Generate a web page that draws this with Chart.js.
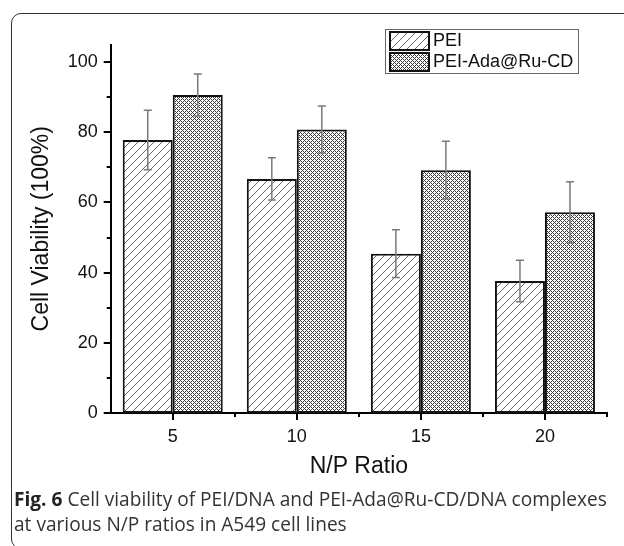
<!DOCTYPE html>
<html>
<head>
<meta charset="utf-8">
<script src="https://cdn.jsdelivr.net/npm/chart.js@4.4.0/dist/chart.umd.min.js"></script>
<style>
  html, body { margin: 0; padding: 0; background: #fff; }
  body { width: 624px; height: 546px; position: relative; overflow: hidden; }
  #frame { position: absolute; left: 11px; top: 13px; width: 640px; height: 536px;
           border: 1.5px solid #333; border-radius: 10px; box-sizing: border-box; }
  #wrap { position: absolute; left: 0; top: 0; width: 624px; height: 546px; }
  #caption { position: absolute; left: 14px; top: 487px; width: 606px; white-space: nowrap;
             font-family: "Open Sans"; font-size: 19.1px; line-height: 25px; color: #333; }
  #caption b { color: #222; }
</style>
</head>
<body>
<div id="frame"></div>
<div id="wrap"><canvas id="chart"></canvas></div>
<div id="caption"><b>Fig. 6</b> Cell viability of PEI/DNA and PEI-Ada@Ru-CD/DNA complexes<br>at various N/P ratios in A549 cell lines</div>
<script>
// values
const ratios = ['5', '10', '15', '20'];
const peiValues = [77.8, 66.7, 45.4, 37.6];
const peiErrors = [8.5, 6.0, 6.8, 5.9];
const adaValues = [90.6, 80.8, 69.2, 57.2];
const adaErrors = [6.0, 6.7, 8.2, 8.7];
const yTicks = [0, 20, 40, 60, 80, 100];

const FONT = '"Liberation Sans", Arial, sans-serif';

function hatchPattern() {
  const c = document.createElement('canvas');
  c.width = 8; c.height = 8;
  const g = c.getContext('2d');
  g.fillStyle = '#fff'; g.fillRect(0, 0, 8, 8);
  g.fillStyle = '#666';
  for (let i = 0; i < 8; i++) g.fillRect(i, 7 - i, 1, 1);
  return g.createPattern(c, 'repeat');
}

function checkPattern() {
  const c = document.createElement('canvas');
  c.width = 4; c.height = 4;
  const g = c.getContext('2d');
  g.fillStyle = '#fff'; g.fillRect(0, 0, 4, 4);
  g.fillStyle = '#3a3a3a';
  for (let x = 0; x < 4; x++)
    for (let y = 0; y < 4; y++)
      if ((x + y) % 4 === 0 || (x - y + 4) % 4 === 0) g.fillRect(x, y, 1, 1);
  return g.createPattern(c, 'repeat');
}

const errorBars = {
  id: 'errorBars',
  afterDatasetsDraw(chart) {
    const ctx = chart.ctx;
    const y = chart.scales.y;
    ctx.save();
    ctx.strokeStyle = '#7a7a7a';
    ctx.lineWidth = 1.5;
    chart.data.datasets.forEach((ds, di) => {
      chart.getDatasetMeta(di).data.forEach((bar, i) => {
        const top = y.getPixelForValue(ds.data[i] + ds.errors[i]);
        const bot = y.getPixelForValue(ds.data[i] - ds.errors[i]);
        ctx.beginPath();
        ctx.moveTo(bar.x, top); ctx.lineTo(bar.x, bot);
        ctx.moveTo(bar.x - 4, top); ctx.lineTo(bar.x + 4, top);
        ctx.moveTo(bar.x - 4, bot); ctx.lineTo(bar.x + 4, bot);
        ctx.stroke();
      });
    });
    ctx.restore();
  }
};

// major + minor tick marks, outside the axes
const axisTicks = {
  id: 'axisTicks',
  afterDraw(chart) {
    const {ctx, scales: {x, y}} = chart;
    ctx.save();
    ctx.strokeStyle = '#000';
    ctx.lineWidth = 2;
    ctx.beginPath();
    for (let v = 0; v <= 100; v += 10) {
      const py = Math.round(y.getPixelForValue(v));
      const len = v % 20 === 0 ? 7 : 4;
      ctx.moveTo(y.right - len, py); ctx.lineTo(y.right, py);
    }
    const step = x.width / ratios.length;
    ratios.forEach((r, i) => {
      const px = Math.round(x.getPixelForValue(i));
      ctx.moveTo(px, x.top); ctx.lineTo(px, x.top + 7);
      const mx = Math.round(px + step / 2);
      ctx.moveTo(mx, x.top); ctx.lineTo(mx, x.top + 4);
    });
    ctx.stroke();
    ctx.restore();
  }
};

const boxLegend = {
  id: 'boxLegend',
  afterDraw(chart) {
    const ctx = chart.ctx;
    ctx.save();
    ctx.strokeStyle = '#666';
    ctx.lineWidth = 1;
    ctx.strokeRect(385.5, 29.5, 193, 44);
    chart.data.datasets.forEach((ds, i) => {
      const top = 32 + i * 21;
      ctx.fillStyle = ds.backgroundColor;
      ctx.fillRect(390, top, 39, 18);
      ctx.lineWidth = 2;
      ctx.strokeStyle = '#111';
      ctx.strokeRect(390, top, 39, 18);
      ctx.fillStyle = '#111';
      ctx.font = '18px ' + FONT;
      ctx.textBaseline = 'middle';
      ctx.fillText(ds.label, 433, top + 9.5);
    });
    ctx.restore();
  }
};

new Chart(document.getElementById('chart'), {
  type: 'bar',
  data: {
    labels: ratios,
    datasets: [{
      label: 'PEI',
      data: peiValues,
      errors: peiErrors,
      backgroundColor: hatchPattern(),
      borderColor: '#111',
      borderWidth: 2,
      borderSkipped: false,
      categoryPercentage: 0.806,
      barPercentage: 1
    }, {
      label: 'PEI-Ada@Ru-CD',
      data: adaValues,
      errors: adaErrors,
      backgroundColor: checkPattern(),
      borderColor: '#111',
      borderWidth: 2,
      borderSkipped: false,
      categoryPercentage: 0.806,
      barPercentage: 1
    }]
  },
  options: {
    responsive: true,
    maintainAspectRatio: false,
    animation: false,
    layout: { padding: { left: 0, top: 44.5, right: 17, bottom: 0 } },
    plugins: { legend: { display: false }, tooltip: { enabled: false } },
    scales: {
      x: {
        grid: { display: false, drawTicks: false },
        border: { color: '#000', width: 2 },
        ticks: { padding: 13, color: '#111', font: { family: FONT, size: 18 } },
        title: { display: true, text: 'N/P Ratio', color: '#111',
                 font: { family: FONT, size: 23 }, padding: { top: 0, bottom: 66 } },
        afterFit: s => { s.height = 133; }
      },
      y: {
        min: 0,
        max: 105,
        grid: { display: false, drawTicks: false },
        border: { color: '#000', width: 2 },
        afterBuildTicks: s => { s.ticks = yTicks.map(v => ({ value: v })); },
        ticks: { padding: 13, color: '#111', font: { family: FONT, size: 18 } },
        title: { display: true, text: 'Cell Viability (100%)', color: '#111',
                 font: { family: FONT, size: 23 }, padding: { top: 28, bottom: 0 } },
        afterFit: s => { s.width = 110.7; }
      }
    }
  },
  plugins: [errorBars, axisTicks, boxLegend]
});
</script>
</body>
</html>
